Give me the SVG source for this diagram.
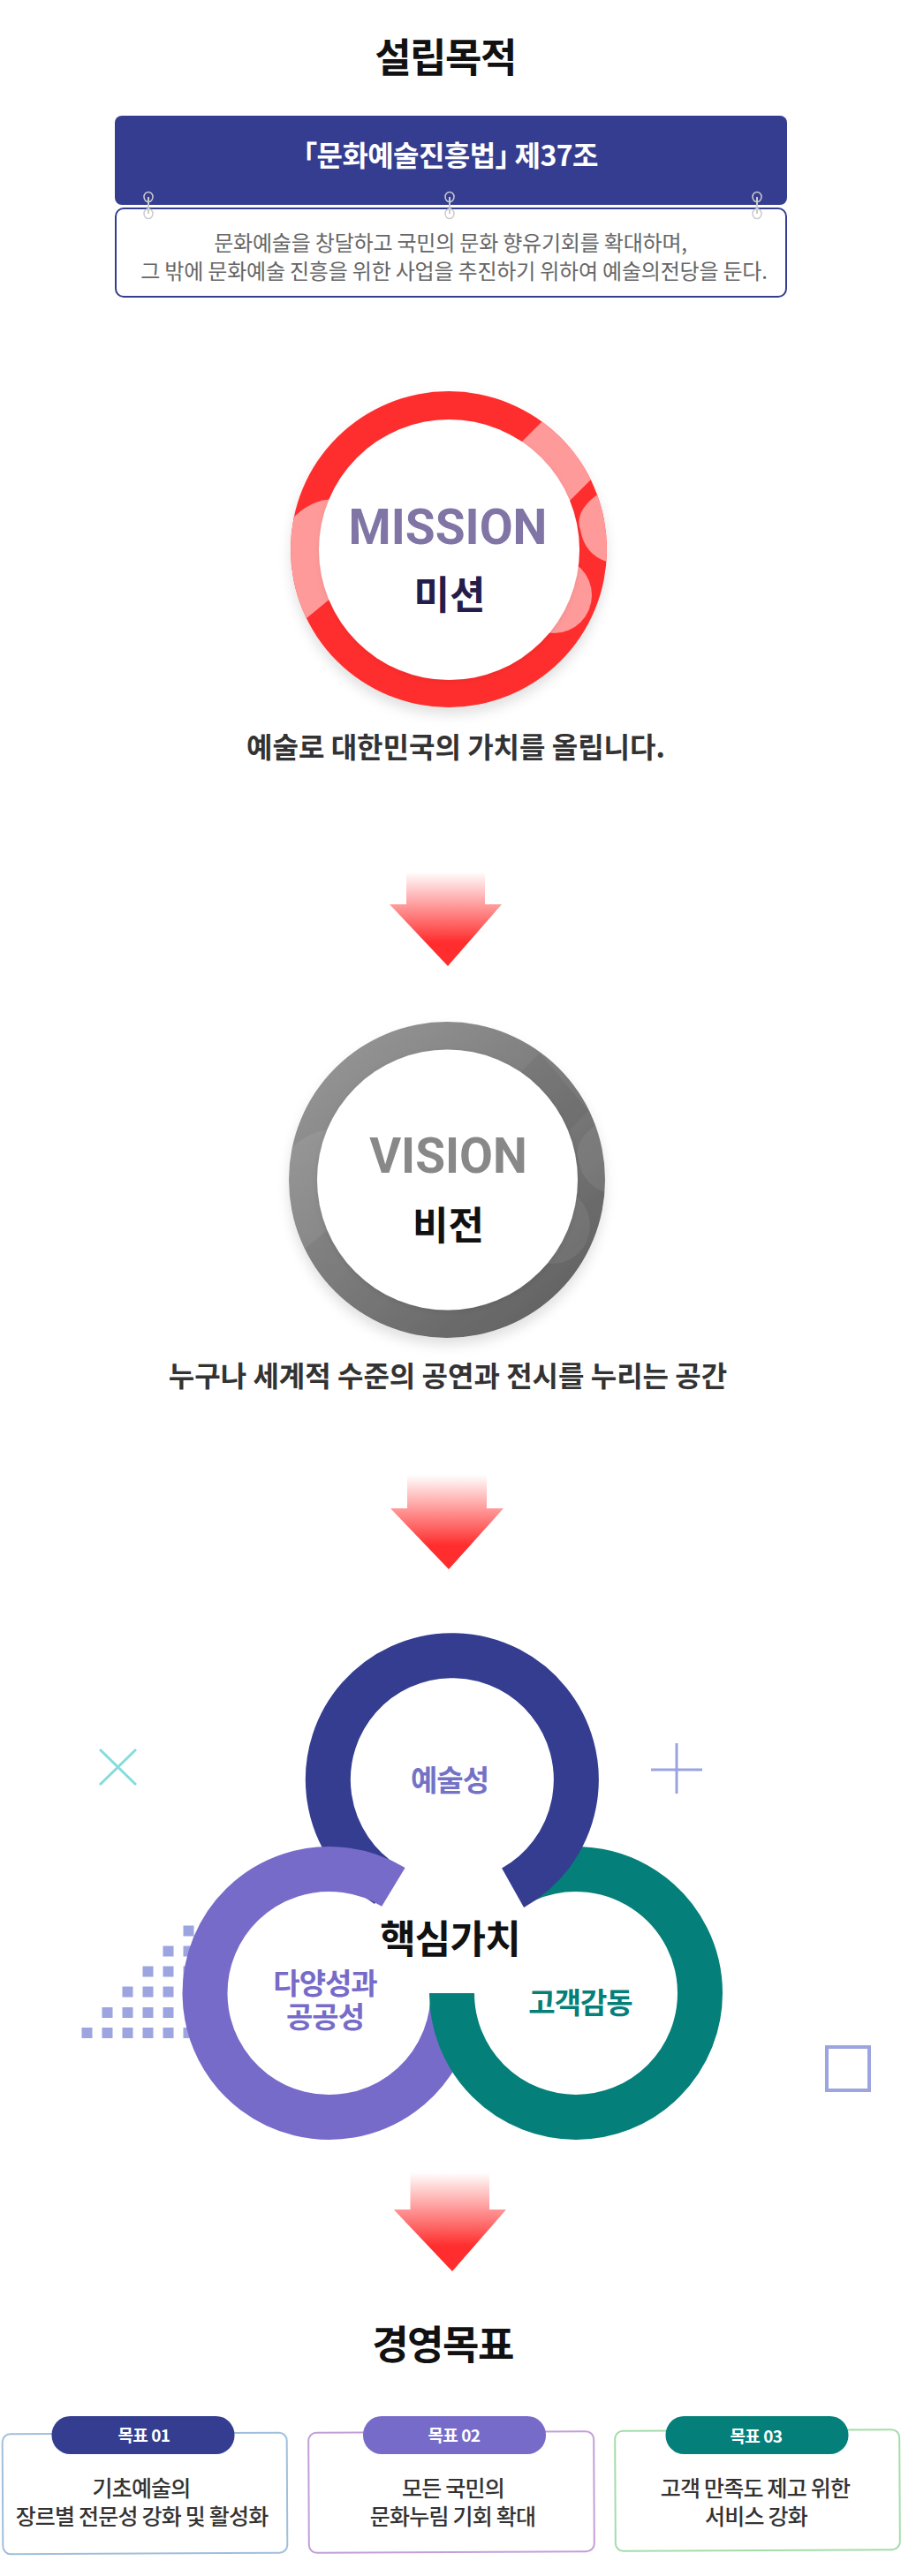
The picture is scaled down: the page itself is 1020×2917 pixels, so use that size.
<svg xmlns="http://www.w3.org/2000/svg" width="1020" height="2917" viewBox="0 0 1020 2917">
<style>
text{font-family:"Noto Sans CJK KR","Noto Sans",sans-serif;text-anchor:middle}
.title{font-size:45px;font-weight:700;fill:#111;letter-spacing:-1.5px}
.cap{font-size:32px;font-weight:700;fill:#333}
.body{font-size:24px;fill:#666;letter-spacing:-.2px}
.en{font-family:Roboto,"Noto Sans",sans-serif;font-size:55px;font-weight:700}
.ko{font-size:44px;font-weight:700}
.val{font-size:33px;font-weight:700;letter-spacing:-1px}
.pilltx{font-size:19px;font-weight:700;fill:#fff;letter-spacing:-.5px}
.cardtx{font-size:25px;font-weight:500;fill:#333;letter-spacing:-.8px}
.card{fill:#fff;stroke-width:2}
.ring{fill:none;stroke-width:51}
.dots rect{fill:#9ca5e0;width:12px;height:12px}
.link{fill:none;stroke:#ccc;stroke-width:1.5}
.hb{font-feature-settings:"halt"}
</style>
<defs>
<linearGradient id="ag" x1="0" y1="0" x2="0" y2="1"><stop offset="0" stop-color="#ff2d2d" stop-opacity="0"/><stop offset=".75" stop-color="#ff2d2d"/><stop offset="1" stop-color="#ff2d2d"/></linearGradient>
<linearGradient id="gg" x1="0.15" y1="0.1" x2="0.85" y2="0.9"><stop offset="0" stop-color="#939393"/><stop offset="1" stop-color="#636363"/></linearGradient>
<filter id="sh" x="-20%" y="-20%" width="140%" height="140%"><feDropShadow dx="0" dy="8" stdDeviation="7" flood-color="#000" flood-opacity=".12"/></filter>
<filter id="sh2" x="-20%" y="-20%" width="140%" height="140%"><feDropShadow dx="0" dy="2" stdDeviation="3" flood-color="#000" flood-opacity=".08"/></filter>
<clipPath id="cm"><circle cx="508" cy="622" r="179"/></clipPath>
<clipPath id="cv"><circle cx="506" cy="1336" r="179"/></clipPath>
<path id="band" d="M580 511L625 466L680 532L634 578Z"/>
<path id="blobl" d="M315 610Q340 565 380 565L420 640L330 714Z"/>
<path id="blobr" d="M675 561Q650 580 657 600Q662 628 687 636L720 640V561Z"/>
<circle id="blobb" cx="627" cy="674" r="43"/>
</defs>
<rect width="1020" height="2917" fill="#fff"/>

<text class="title" x="504" y="82">설립목적</text>

<g id="law-header"><rect x="130" y="131" width="761" height="101" rx="8" fill="#343d90"/><text x="510" y="188" style="font-size:32px;font-weight:700;fill:#fff;letter-spacing:-.6px"><tspan class="hb">「</tspan>문화예술진흥법<tspan class="hb">」</tspan> 제37조</text></g>
<g id="law-body"><rect x="131" y="236" width="759" height="100" rx="9" fill="#fff" stroke="#343d90" stroke-width="2"/><text class="body" x="510" y="284">문화예술을 창달하고 국민의 문화 향유기회를 확대하며,</text><text class="body" x="514" y="316">그 밖에 문화예술 진흥을 위한 사업을 추진하기 위하여 예술의전당을 둔다.</text></g>

<g id="connectors">
<g id="links">
<g class="link"><ellipse cx="168" cy="223" rx="5" ry="5.5"/><ellipse cx="168" cy="242" rx="5" ry="5.5"/><path d="M168 223V242" stroke-width="2"/></g>
<g class="link"><ellipse cx="509" cy="223" rx="5" ry="5.5"/><ellipse cx="509" cy="242" rx="5" ry="5.5"/><path d="M509 223V242" stroke-width="2"/></g>
<g class="link"><ellipse cx="857" cy="223" rx="5" ry="5.5"/><ellipse cx="857" cy="242" rx="5" ry="5.5"/><path d="M857 223V242" stroke-width="2"/></g>
</g>
<path id="arrow1" fill="url(#ag)" d="M460 987H549V1024H568L507 1094L441 1024H460Z"/>
<path id="arrow2" fill="url(#ag)" d="M461 1670H551V1708H570L508 1777L442 1708H461Z"/>
<path id="arrow3" fill="url(#ag)" d="M464.5 2460H554V2502H573L512 2572L445.7 2502H464.5Z"/>
</g>

<g id="mission">
<circle cx="508" cy="622" r="179" fill="#ff2d2d" filter="url(#sh)"/>
<g clip-path="url(#cm)" fill="#ff9a9a"><use href="#band"/><use href="#blobl"/><use href="#blobr"/><use href="#blobb"/></g>
<circle cx="508.5" cy="622.5" r="147.5" fill="#fff" filter="url(#sh2)"/>
<text class="en" x="507" y="616" fill="#8075a5">MISSION</text>
<text class="ko" x="509" y="690" fill="#241c4a">미션</text>
</g>
<text class="cap" x="516" y="858">예술로 대한민국의 가치를 올립니다.</text>

<g id="vision">
<circle cx="506" cy="1336" r="179" fill="url(#gg)" filter="url(#sh)"/>
<g clip-path="url(#cv)"><g transform="translate(-2 714)" fill="#fff" fill-opacity=".07"><use href="#blobl"/><use href="#blobr"/><use href="#blobb"/></g>
<g transform="translate(-2 714)" fill="#000" fill-opacity=".05"><path d="M592 499L613 478L668 544L646 566Z"/></g></g>
<circle cx="506.5" cy="1336" r="147.5" fill="#fff" filter="url(#sh2)"/>
<text class="en" x="507.5" y="1328" fill="#888">VISION</text>
<text class="ko" x="507.5" y="1404" fill="#111">비전</text>
</g>
<text class="cap" x="507" y="1570">누구나 세계적 수준의 공연과 전시를 누리는 공간</text>

<g id="decor">
<path d="M113 1981L154 2021M154 1981L113 2021" stroke="#85dcdc" stroke-width="3" fill="none"/>
<path d="M737 2004H795M766 1974V2031" stroke="#9aa5e0" stroke-width="3" fill="none"/>
<rect x="936" y="2318" width="48" height="49" fill="none" stroke="#9ca5e0" stroke-width="4"/>
<g class="dots">
<rect x="207.500" y="2180.500"/>
<rect x="184.500" y="2203.500"/><rect x="207.500" y="2203.500"/>
<rect x="161.500" y="2226.500"/><rect x="184.500" y="2226.500"/><rect x="207.500" y="2226.500"/>
<rect x="138.500" y="2249.500"/><rect x="161.500" y="2249.500"/><rect x="184.500" y="2249.500"/>
<rect x="115.500" y="2273"/><rect x="138.500" y="2273"/><rect x="161.500" y="2273"/><rect x="184.500" y="2273"/>
<rect x="92.500" y="2296"/><rect x="115.500" y="2296"/><rect x="138.500" y="2296"/><rect x="161.500" y="2296"/><rect x="184.500" y="2296"/><rect x="207.500" y="2296"/>
</g>
</g>

<g id="core-values">
<path class="ring" stroke="#057f79" d="M792.5 2257A140.500 140.500 0 0 0 595.300 2128.500"/>
<path class="ring" stroke="#343d90" d="M580.600 2137.700A140.500 140.500 0 1 0 437.500 2134.400"/>
<path class="ring" stroke="#776bca" d="M445.400 2136.900A140.500 140.500 0 1 0 512.500 2269"/>
<path class="ring" stroke="#057f79" d="M511.500 2257A140.500 140.500 0 0 0 792.500 2257"/>
<text x="509.500" y="2212" style="font-size:44px;font-weight:700;fill:#111;letter-spacing:-.8px">핵심가치</text>
</g>
<g id="value-art"><text class="val" x="509" y="2028" fill="#7472c6">예술성</text></g>
<g id="value-diversity"><text class="val" x="368" y="2258" fill="#776bca">다양성과</text><text class="val" x="368" y="2296" fill="#776bca">공공성</text></g>
<g id="value-customer"><text class="val" x="657" y="2280" fill="#057f79">고객감동</text></g>

<text class="title" x="501" y="2672">경영목표</text>

<g id="goal-1"><rect class="card" x="3" y="2755.500" width="322" height="136" rx="9" stroke="#a0bfdc" transform="rotate(-.3 164 2824)"/><rect x="58.500" y="2736" width="207" height="43" rx="21" fill="#343d90"/><text class="pilltx" x="163" y="2765">목표 01</text><text class="cardtx" x="160" y="2827">기초예술의</text><text class="cardtx" x="160.500" y="2859">장르별 전문성 강화 및 활성화</text></g>
<g id="goal-2"><rect class="card" x="349.500" y="2754" width="323" height="136" rx="9" stroke="#c39fd8" transform="rotate(-.3 511 2822)"/><rect x="411" y="2736" width="207" height="43" rx="21" fill="#776bca"/><text class="pilltx" x="514" y="2765">목표 02</text><text class="cardtx" x="513" y="2827">모든 국민의</text><text class="cardtx" x="512.500" y="2859">문화누림 기회 확대</text></g>
<g id="goal-3"><rect class="card" x="696.500" y="2752" width="322" height="136" rx="9" stroke="#a4dcaa" transform="rotate(-.3 857 2820)"/><rect x="753.500" y="2736" width="207" height="43" rx="21" fill="#057f79"/><text class="pilltx" x="856" y="2766">목표 03</text><text class="cardtx" x="855" y="2827">고객 만족도 제고 위한</text><text class="cardtx" x="856" y="2859">서비스 강화</text></g>
</svg>
